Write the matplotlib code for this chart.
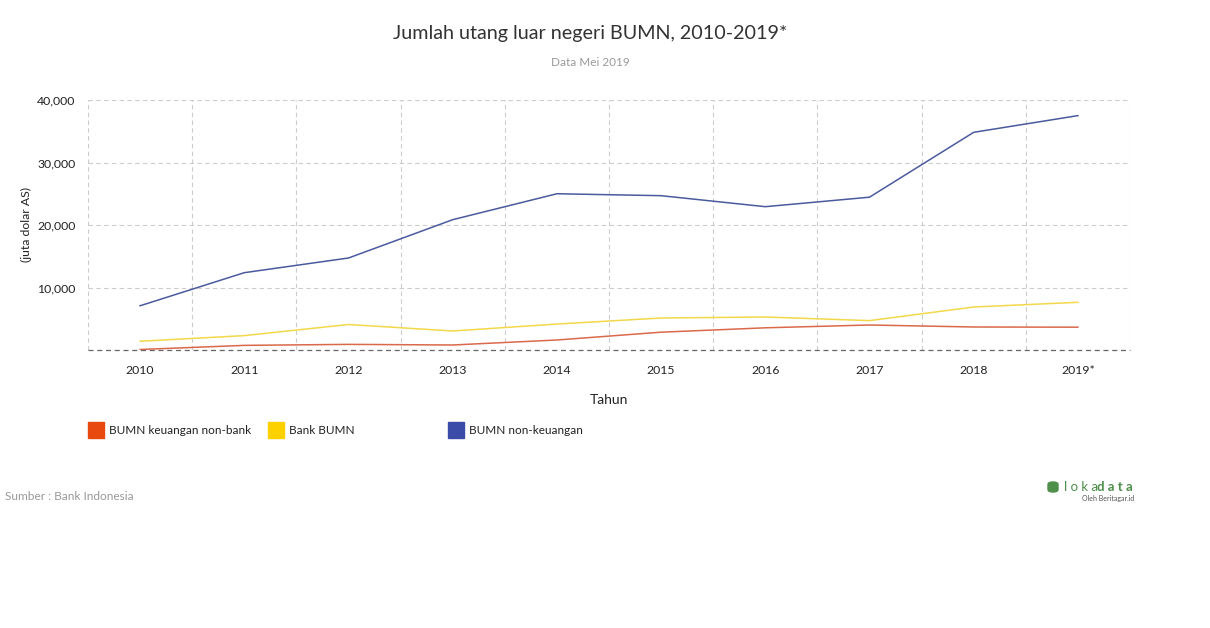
import matplotlib
matplotlib.use('Agg')
import matplotlib.pyplot as plt
from matplotlib.patches import Rectangle, FancyBboxPatch
from matplotlib.ticker import FuncFormatter

plt.rcParams['font.family'] = ['Lato', 'DejaVu Sans']

# data (juta dolar AS)
tahun = ['2010', '2011', '2012', '2013', '2014', '2015', '2016', '2017', '2018', '2019*']
keuangan_non_bank = [80, 740, 900, 800, 1600, 2850, 3550, 4000, 3680, 3650]
bank_bumn = [1400, 2300, 4080, 3040, 4150, 5120, 5280, 4700, 6880, 7630]
non_keuangan = [7080, 12370, 14720, 20850, 25000, 24690, 22930, 24450, 34830, 37500]

series = [
    ('BUMN keuangan non-bank', keuangan_non_bank, '#e8490f', '#d9694a'),
    ('Bank BUMN', bank_bumn, '#fdd100', '#f2d84a'),
    ('BUMN non-keuangan', non_keuangan, '#3b4ba8', '#4a5a9e'),
]

W, H = 1210, 628
fig = plt.figure(figsize=(W / 100, H / 100), dpi=100)
ax = fig.add_axes([88 / W, 1 - 350 / H, (1130 - 88) / W, 250 / H])

x = list(range(len(tahun)))
for name, vals, col, lcol in series:
    ax.plot(x, vals, color=lcol, linewidth=1.1, solid_joinstyle='round')

ax.set_xlim(-0.5, len(tahun) - 0.5)
ax.set_ylim(0, 40000)

# grid
for b in [i - 0.5 for i in range(len(tahun) + 1)]:
    ax.axvline(b, color='#cccccc', linestyle=(0, (4, 3)), linewidth=0.8, zorder=0)
for v in [10000, 20000, 30000, 40000]:
    ax.axhline(v, color='#cccccc', linestyle=(0, (4, 3)), linewidth=0.8, zorder=0)
ax.axhline(0, color='#666666', linestyle=(0, (4, 3)), linewidth=0.9, zorder=1, clip_on=False)

for s in ax.spines.values():
    s.set_visible(False)

ax.set_xticks(x)
ax.set_xticklabels(tahun)
ax.set_yticks([10000, 20000, 30000, 40000])
ax.yaxis.set_major_formatter(FuncFormatter(lambda v, p: f'{int(v):,}'))
ax.tick_params(axis='both', length=0, labelsize=8.8, colors='#222222')
ax.tick_params(axis='x', pad=11)
ax.tick_params(axis='y', pad=9)

ax.set_xlabel('Tahun', fontsize=10, color='#222222', labelpad=13)
ax.set_ylabel('(juta dolar AS)', fontsize=8.8, color='#222222', labelpad=4)

# title
fig.text(590 / W, 1 - 33 / H, 'Jumlah utang luar negeri BUMN, 2010-2019*',
         ha='center', va='center', fontsize=14.2, color='#333333')
fig.text(590 / W, 1 - 62 / H, 'Data Mei 2019', ha='center', va='center',
         fontsize=8.5, color='#999999')

# legend
leg_x = [88, 268, 448]
for (name, vals, col, lcol), lx in zip(series, leg_x):
    fig.patches.append(Rectangle((lx / W, 1 - 438 / H), 16 / W, 16 / H,
                                 transform=fig.transFigure, color=col))
    fig.text((lx + 21) / W, 1 - 431 / H, name, ha='left', va='center',
             fontsize=8.5, color='#222222')

# source
fig.text(5 / W, 1 - 497 / H, 'Sumber : Bank Indonesia', ha='left', va='center',
         fontsize=8.6, color='#999999')

# lokadata mark
fig.patches.append(FancyBboxPatch((1048 / W, 1 - 492 / H), 10 / W, 10 / H,
                                  boxstyle='round,pad=0,rounding_size=0.004',
                                  transform=fig.transFigure, color='#4e8f4a'))
fig.text(1064 / W, 1 - 487 / H, 'l o k a', ha='left', va='center',
         fontsize=9.5, color='#4e8f4a')
fig.text(1097 / W, 1 - 487 / H, 'd a t a', ha='left', va='center',
         fontsize=9.5, color='#4e8f4a', fontweight='bold')
fig.text(1134 / W, 1 - 499 / H, 'Oleh Beritagar.id', ha='right', va='center',
         fontsize=5, color='#555555')

fig.savefig('out.png', dpi=100, facecolor='white')
